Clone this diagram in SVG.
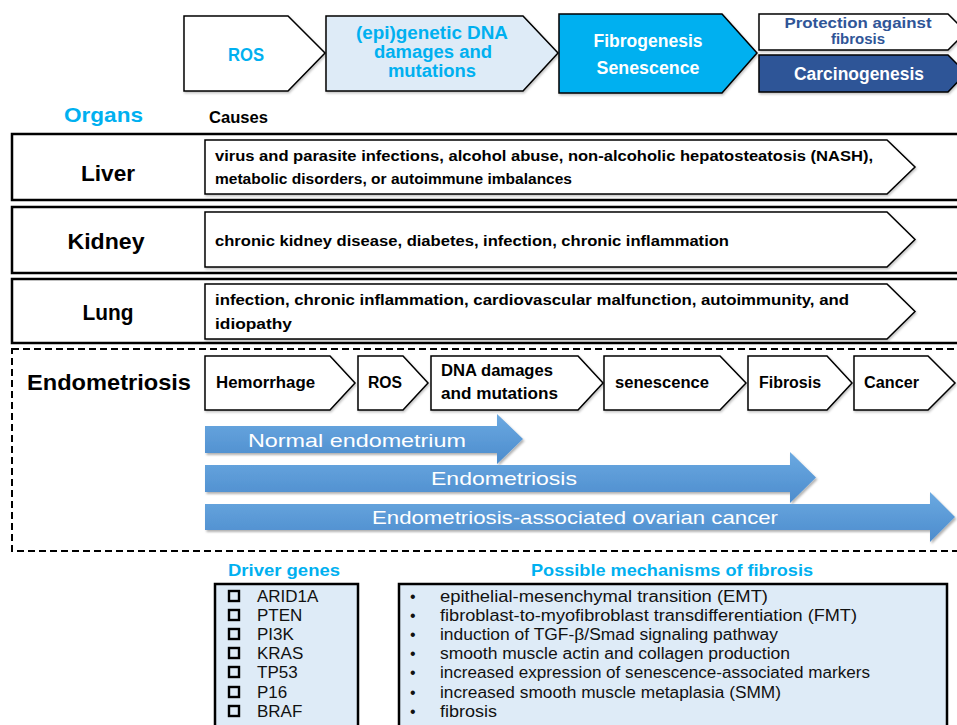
<svg xmlns="http://www.w3.org/2000/svg" width="957" height="725" viewBox="0 0 957 725">
<defs>
<style>
.t{font-family:"Liberation Sans",Arial,sans-serif;}
.b{font-weight:bold;}
.blue{fill:#00B0F0;}
.chev{fill:#fff;stroke:#000;stroke-width:1.5;stroke-linejoin:miter;}
.row{fill:#fff;stroke:#000;stroke-width:2.5;}
.arrow{fill:url(#ag);filter:url(#sh);}
.atx{font-family:"Liberation Sans",Arial,sans-serif;fill:#fff;font-size:19px;}
.ctx{font-family:"Liberation Sans",Arial,sans-serif;font-weight:bold;font-size:14.5px;fill:#000;}
.etx{font-family:"Liberation Sans",Arial,sans-serif;font-weight:bold;font-size:16px;fill:#000;}
.lst{font-family:"Liberation Sans",Arial,sans-serif;font-size:16px;fill:#111;}
.gen{font-family:"Liberation Sans",Arial,sans-serif;font-size:17px;fill:#111;}
.box{fill:#DEEBF7;stroke:#000;stroke-width:2.5;}
.cb{fill:none;stroke:#000;stroke-width:2.4;}
</style>
<linearGradient id="ag" x1="0" y1="0" x2="0" y2="1">
<stop offset="0" stop-color="#6BA9E1"/>
<stop offset="1" stop-color="#4C8CCD"/>
</linearGradient>
<filter id="sh" x="-5%" y="-20%" width="110%" height="150%">
<feDropShadow dx="1.5" dy="2" stdDeviation="1.2" flood-color="#000" flood-opacity="0.3"/>
</filter>
<filter id="ps" x="-5%" y="-10%" width="110%" height="130%">
<feDropShadow dx="1" dy="1.5" stdDeviation="0.8" flood-color="#000" flood-opacity="0.25"/>
</filter>
</defs>
<rect width="957" height="725" fill="#fff"/>

<!-- top process -->
<g id="top-ros">
<polygon class="chev" filter="url(#ps)" points="184,16 288,16 325,53 288,91 184,91"/>
<text class="t b blue" x="246" y="61" font-size="18" text-anchor="middle" textLength="36" lengthAdjust="spacingAndGlyphs">ROS</text>
</g>
<g id="top-dna">
<polygon class="chev" filter="url(#ps)" style="fill:#DEEBF7" points="326,16 523,16 558,53 523,91 326,91"/>
<text class="t b blue" font-size="17.5" text-anchor="middle"><tspan x="432" y="39" textLength="152" lengthAdjust="spacingAndGlyphs">(epi)genetic DNA</tspan><tspan x="433" y="58" textLength="118" lengthAdjust="spacingAndGlyphs">damages and</tspan><tspan x="432" y="77" textLength="88" lengthAdjust="spacingAndGlyphs">mutations</tspan></text>
</g>
<g id="top-fibro">
<polygon class="chev" filter="url(#ps)" style="fill:#00B0F0" points="559,14 722,14 757,53 722,93 559,93"/>
<text class="t b" fill="#fff" font-size="17.5" text-anchor="middle"><tspan x="648" y="47" textLength="109" lengthAdjust="spacingAndGlyphs">Fibrogenesis</tspan><tspan x="648" y="74" textLength="103" lengthAdjust="spacingAndGlyphs">Senescence</tspan></text>
</g>
<g id="top-protect">
<polygon class="chev" filter="url(#ps)" points="759,14 948,14 966,32 948,50 759,50"/>
<text class="t b" fill="#2F5597" font-size="15" text-anchor="middle"><tspan x="858" y="28" textLength="147" lengthAdjust="spacingAndGlyphs">Protection against</tspan><tspan x="858" y="44">fibrosis</tspan></text>
</g>
<g id="top-carcino">
<polygon class="chev" filter="url(#ps)" style="fill:#2F5597" points="759,55 948,55 966,73 948,92 759,92"/>
<text class="t b" fill="#fff" font-size="17.5" x="859" y="80" text-anchor="middle" textLength="130" lengthAdjust="spacingAndGlyphs">Carcinogenesis</text>
</g>

<!-- headers -->
<g id="headers">
<text class="t b blue" x="64" y="122" font-size="21" textLength="79" lengthAdjust="spacingAndGlyphs">Organs</text>
<text class="t b" x="209" y="123" font-size="16" textLength="59" lengthAdjust="spacingAndGlyphs">Causes</text>
</g>

<!-- Liver -->
<g id="liver">
<rect class="row" x="12" y="134" width="950" height="66"/>
<text class="t b" x="108" y="181" font-size="22" text-anchor="middle" textLength="54" lengthAdjust="spacingAndGlyphs">Liver</text>
<polygon class="chev" filter="url(#ps)" points="205,140 887,140 915,167 887,194 205,194"/>
<text class="ctx"><tspan x="215" y="161" textLength="658" lengthAdjust="spacingAndGlyphs">virus and parasite infections, alcohol abuse, non-alcoholic hepatosteatosis (NASH),</tspan><tspan x="215" y="184" textLength="357" lengthAdjust="spacingAndGlyphs">metabolic disorders, or autoimmune imbalances</tspan></text>
</g>

<!-- Kidney -->
<g id="kidney">
<rect class="row" x="12" y="207" width="950" height="66"/>
<text class="t b" x="106" y="249" font-size="22" text-anchor="middle" textLength="77" lengthAdjust="spacingAndGlyphs">Kidney</text>
<polygon class="chev" filter="url(#ps)" points="205,212 887,212 915,239.5 887,267 205,267"/>
<text class="ctx" x="215" y="246" textLength="514" lengthAdjust="spacingAndGlyphs">chronic kidney disease, diabetes, infection, chronic inflammation</text>
</g>

<!-- Lung -->
<g id="lung">
<rect class="row" x="12" y="279" width="950" height="64"/>
<text class="t b" x="108" y="320" font-size="22" text-anchor="middle" textLength="51" lengthAdjust="spacingAndGlyphs">Lung</text>
<polygon class="chev" filter="url(#ps)" points="205,284 887,284 915,311.5 887,339 205,339"/>
<text class="ctx"><tspan x="215" y="305" textLength="634" lengthAdjust="spacingAndGlyphs">infection, chronic inflammation, cardiovascular malfunction, autoimmunity, and</tspan><tspan x="215" y="329" textLength="77" lengthAdjust="spacingAndGlyphs">idiopathy</tspan></text>
</g>

<!-- Endometriosis -->
<g id="endometriosis">
<rect x="12" y="349" width="950" height="202" fill="none" stroke="#000" stroke-width="2" stroke-dasharray="7 4"/>
<text class="t b" x="27" y="390" font-size="22" textLength="164" lengthAdjust="spacingAndGlyphs">Endometriosis</text>
</g>
<g id="e-hemorrhage">
<polygon class="chev" filter="url(#ps)" points="205,356 330,356 355,383 330,410 205,410"/>
<text class="etx" x="216" y="388" textLength="99" lengthAdjust="spacingAndGlyphs">Hemorrhage</text>
</g>
<g id="e-ros">
<polygon class="chev" filter="url(#ps)" points="358,356 403,356 428,383 403,410 358,410"/>
<text class="etx" x="368" y="388" textLength="34" lengthAdjust="spacingAndGlyphs">ROS</text>
</g>
<g id="e-dna">
<polygon class="chev" filter="url(#ps)" points="431,356 578,356 603,383 578,410 431,410"/>
<text class="etx"><tspan x="441" y="376" textLength="112" lengthAdjust="spacingAndGlyphs">DNA damages</tspan><tspan x="441" y="399" textLength="117" lengthAdjust="spacingAndGlyphs">and mutations</tspan></text>
</g>
<g id="e-senescence">
<polygon class="chev" filter="url(#ps)" points="604,356 720,356 746,383 720,410 604,410"/>
<text class="etx" x="615" y="388" textLength="94" lengthAdjust="spacingAndGlyphs">senescence</text>
</g>
<g id="e-fibrosis">
<polygon class="chev" filter="url(#ps)" points="748,356 827,356 852,383 827,410 748,410"/>
<text class="etx" x="759" y="388" textLength="62" lengthAdjust="spacingAndGlyphs">Fibrosis</text>
</g>
<g id="e-cancer">
<polygon class="chev" filter="url(#ps)" points="854,356 928,356 955,383 928,410 854,410"/>
<text class="etx" x="864" y="388" textLength="55" lengthAdjust="spacingAndGlyphs">Cancer</text>
</g>

<!-- blue progression arrows -->
<g id="arrow-normal">
<polygon class="arrow" points="205,426 497,426 497,414 523,439 497,464 497,453 205,453"/>
<text class="atx" x="357" y="447" text-anchor="middle" textLength="218" lengthAdjust="spacingAndGlyphs">Normal endometrium</text>
</g>
<g id="arrow-endo">
<polygon class="arrow" points="205,465 790,465 790,452 816,477.5 790,503 790,492 205,492"/>
<text class="atx" x="504" y="485" text-anchor="middle" textLength="146" lengthAdjust="spacingAndGlyphs">Endometriosis</text>
</g>
<g id="arrow-eaoc">
<polygon class="arrow" points="205,504 930,504 930,492 955,517 930,542 930,530 205,530"/>
<text class="atx" x="575" y="524" text-anchor="middle" textLength="406" lengthAdjust="spacingAndGlyphs">Endometriosis-associated ovarian cancer</text>
</g>

<g id="connectors"></g>

<!-- Driver genes -->
<g id="driver-genes">
<text class="t b blue" x="284" y="576" font-size="17" text-anchor="middle" textLength="112" lengthAdjust="spacingAndGlyphs">Driver genes</text>
<rect class="box" x="215" y="584" width="143" height="150"/>
<rect class="cb" x="229" y="591" width="10" height="10"/>
<rect class="cb" x="229" y="610" width="10" height="10"/>
<rect class="cb" x="229" y="629" width="10" height="10"/>
<rect class="cb" x="229" y="648" width="10" height="10"/>
<rect class="cb" x="229" y="667" width="10" height="10"/>
<rect class="cb" x="229" y="687" width="10" height="10"/>
<rect class="cb" x="229" y="706" width="10" height="10"/>
<text class="gen"><tspan x="257" y="602">ARID1A</tspan><tspan x="257" y="621">PTEN</tspan><tspan x="257" y="640">PI3K</tspan><tspan x="257" y="659">KRAS</tspan><tspan x="257" y="678">TP53</tspan><tspan x="257" y="698">P16</tspan><tspan x="257" y="717">BRAF</tspan></text>
</g>

<!-- Mechanisms -->
<g id="mechanisms">
<text class="t b blue" x="672" y="576" font-size="17" text-anchor="middle" textLength="282" lengthAdjust="spacingAndGlyphs">Possible mechanisms of fibrosis</text>
<rect class="box" x="399" y="584" width="548" height="150"/>
<text class="lst"><tspan x="410" y="602">•</tspan><tspan x="410" y="621">•</tspan><tspan x="410" y="640">•</tspan><tspan x="410" y="659">•</tspan><tspan x="410" y="678">•</tspan><tspan x="410" y="698">•</tspan><tspan x="410" y="717">•</tspan></text>
<text class="lst">
<tspan x="440" y="602" textLength="328" lengthAdjust="spacingAndGlyphs">epithelial-mesenchymal transition (EMT)</tspan>
<tspan x="440" y="621" textLength="417" lengthAdjust="spacingAndGlyphs">fibroblast-to-myofibroblast transdifferentiation (FMT)</tspan>
<tspan x="440" y="640" textLength="338" lengthAdjust="spacingAndGlyphs">induction of TGF-β/Smad signaling pathway</tspan>
<tspan x="440" y="659" textLength="350" lengthAdjust="spacingAndGlyphs">smooth muscle actin and collagen production</tspan>
<tspan x="440" y="678" textLength="430" lengthAdjust="spacingAndGlyphs">increased expression of senescence-associated markers</tspan>
<tspan x="440" y="698" textLength="341" lengthAdjust="spacingAndGlyphs">increased smooth muscle metaplasia (SMM)</tspan>
<tspan x="440" y="717" textLength="57" lengthAdjust="spacingAndGlyphs">fibrosis</tspan>
</text>
</g>
</svg>
